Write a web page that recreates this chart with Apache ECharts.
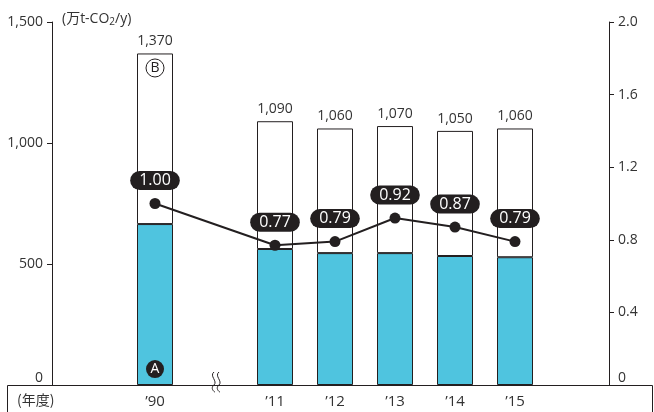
<!DOCTYPE html>
<html><head><meta charset="utf-8">
<script src="https://cdn.jsdelivr.net/npm/echarts@6/dist/echarts.min.js"></script>
<style>html,body{margin:0;padding:0;background:#fff}#c{width:654px;height:412px}</style>
</head><body><div id="c"></div>
<script>
const years = ['’90', '’11', '’12', '’13', '’14', '’15'];
const totals = [1370, 1090, 1060, 1070, 1050, 1060];
const partA = [665, 562, 545, 545, 533, 528];
const ratio = [1.00, 0.77, 0.79, 0.92, 0.87, 0.79];
const leftTicks = [0, 500, 1000, 1500];
const rightTicks = [0, 0.4, 0.8, 1.2, 1.6, 2.0];

// category slots: blank before '90, blank for the axis break, blank at end
const slotIdx = [1, 3, 4, 5, 6, 7];
const nSlots = 9;
const cats = new Array(nSlots).fill('');
slotIdx.forEach((s, i) => cats[s] = years[i]);
function spread(arr) { const o = new Array(nSlots).fill(null); slotIdx.forEach((s, i) => o[s] = arr[i]); return o; }
const aData = spread(partA);
const bData = spread(totals.map((t, i) => t - partA[i]));
const totData = spread(totals);
const rData = spread(ratio);

const FONT = '"Open Sans", "Noto Sans CJK JP", sans-serif';
const TXT = '#333';
const INK = '#231f20';

function wave(x) {
  return [{
    type: 'bezierCurve', z: 11,
    shape: { x1: x, y1: 372, cpx1: x - 5, cpy1: 376, cpx2: x + 4, cpy2: 381, x2: x, y2: 385 },
    style: { fill: null, stroke: INK, lineWidth: 1 }
  }, {
    type: 'bezierCurve', z: 11,
    shape: { x1: x, y1: 385, cpx1: x - 4, cpy1: 388, cpx2: x, cpy2: 392, x2: x + 1, y2: 392 },
    style: { fill: null, stroke: INK, lineWidth: 1 }
  }];
}

const chart = echarts.init(document.getElementById('c'));
chart.setOption({
  animation: false,
  grid: { left: 65, right: 49, top: 22, bottom: 27, containLabel: false },
  textStyle: { fontFamily: FONT },
  xAxis: {
    type: 'category', data: cats,
    axisLine: { show: false }, axisTick: { show: false },
    axisLabel: { color: TXT, fontSize: 15, fontFamily: FONT, margin: 9, interval: 0 }
  },
  yAxis: [{
    type: 'value', min: leftTicks[0], max: leftTicks[leftTicks.length - 1], interval: 500,
    position: 'left', offset: 13,
    axisLine: { show: true, lineStyle: { color: INK, width: 1 } },
    axisTick: { show: true, length: 5, lineStyle: { color: INK } },
    splitLine: { show: false },
    axisLabel: {
      color: TXT, fontSize: 14, fontFamily: FONT, margin: 9,
      formatter: v => v === 0 ? '{z|0}' : v.toLocaleString('en-US'),
      rich: { z: { fontSize: 14, fontFamily: FONT, color: TXT, padding: [0, 0, 14, 0] } }
    }
  }, {
    type: 'value', min: rightTicks[0], max: rightTicks[rightTicks.length - 1], interval: 0.4,
    position: 'right', offset: 4,
    axisLine: { show: true, lineStyle: { color: INK, width: 1 } },
    axisTick: { show: true, length: 5, lineStyle: { color: INK } },
    splitLine: { show: false },
    axisLabel: {
      color: TXT, fontSize: 14, fontFamily: FONT, margin: 9,
      formatter: v => v === 0 ? '{z|0}' : v.toFixed(1),
      rich: { z: { fontSize: 14, fontFamily: FONT, color: TXT, padding: [0, 0, 14, 0] } }
    }
  }],
  series: [{
    type: 'bar', stack: 's', data: aData, barWidth: 36,
    itemStyle: { color: '#4fc4df', borderColor: INK, borderWidth: 1 },
    markPoint: {
      symbol: 'circle',
      data: [{
        coord: [slotIdx[0], 66], symbolSize: 18,
        itemStyle: { color: INK, borderWidth: 0 },
        label: { show: true, formatter: 'A', color: '#fff', fontSize: 14, fontFamily: FONT }
      }, {
        coord: [slotIdx[0], 1310], symbolSize: 18,
        itemStyle: { color: '#fff', borderColor: INK, borderWidth: 1 },
        label: { show: true, formatter: 'B', color: INK, fontSize: 14, fontFamily: FONT }
      }]
    }
  }, {
    type: 'bar', stack: 's', data: bData, barWidth: 36,
    itemStyle: { color: '#fff', borderColor: INK, borderWidth: 1 },
    label: {
      show: true, position: 'top', distance: 5, color: TXT, fontSize: 14, fontFamily: FONT,
      formatter: p => totData[p.dataIndex] == null ? '' : totData[p.dataIndex].toLocaleString('en-US')
    }
  }, {
    type: 'line', yAxisIndex: 1, data: rData, connectNulls: true,
    symbol: 'circle', symbolSize: 11, z: 5,
    lineStyle: { color: INK, width: 2 },
    itemStyle: { color: INK },
    label: {
      show: true, position: 'top', distance: 8,
      formatter: p => p.value == null ? '' : p.value.toFixed(2),
      color: '#fff', fontSize: 16, fontFamily: FONT,
      backgroundColor: INK, borderRadius: 10, padding: [0, 9, 0, 9], lineHeight: 19
    }
  }],
  graphic: [{
    type: 'rect', shape: { x: 7.5, y: 385.5, width: 645, height: 40 },
    style: { fill: 'none', stroke: INK, lineWidth: 1 }, z: 10
  }, {
    type: 'text', x: 17, y: 393,
    style: { text: '(年度)', fill: TXT, font: '14px "Noto Sans CJK JP", sans-serif' }, z: 10
  }, {
    type: 'text', x: 62, y: 11,
    style: {
      text: '(万t-CO{s|2}/y)', fill: TXT, font: '14px "Open Sans", "Noto Sans CJK JP", sans-serif',
      rich: { s: { fontSize: 10, fill: TXT, padding: [6, 0, 0, 0], fontFamily: FONT } }
    }, z: 10
  }].concat(wave(214), wave(219))
});
</script></body></html>
